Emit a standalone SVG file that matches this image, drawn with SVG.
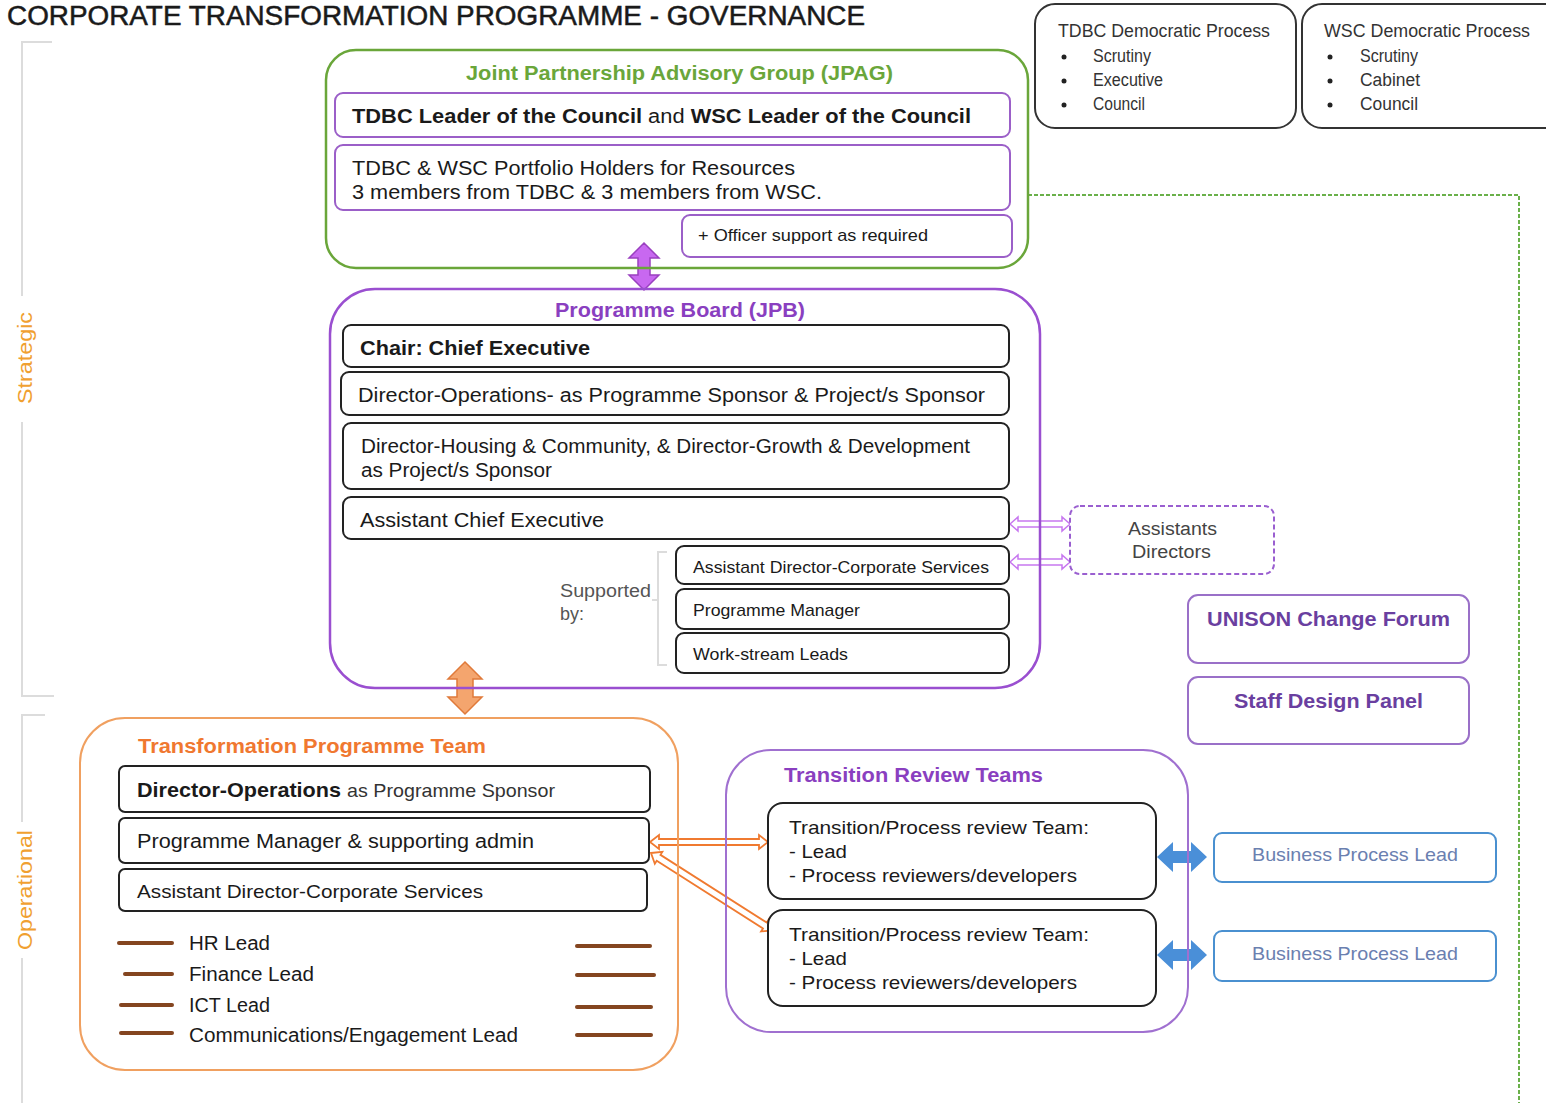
<svg xmlns="http://www.w3.org/2000/svg" width="1546" height="1103" viewBox="0 0 1546 1103">
  <style>
    text { font-family: "Liberation Sans", Arial, sans-serif; fill: #1a1a1a; }
    .title { font-size: 27px; stroke: #1a1a1a; stroke-width: 0.5; }
    .side { font-size: 21px; fill: #f0a030; }
    .grp { font-size: 20px; font-weight: bold; }
    .body { font-size: 20px; }
    .small { font-size: 17px; }
    .dem { font-size: 18px; fill: #333; }
    .box { fill: #fff; stroke: #222; stroke-width: 2; }
    .pbox { fill: #fff; stroke: #9b5fc8; stroke-width: 2; }
    .bracket { fill: none; stroke: #dcdcdc; stroke-width: 2; }
    .lead { stroke: #844520; stroke-width: 4; stroke-linecap: round; }
  </style>

  <!-- heading -->
  <text class="title" x="7" y="25" textLength="858" lengthAdjust="spacingAndGlyphs">CORPORATE TRANSFORMATION PROGRAMME - GOVERNANCE</text>

  <!-- side brackets -->
  <g id="strategic-label">
    <path class="bracket" d="M52,42 H22 V296 M22,422 V696 H54"/>
    <text class="side" transform="translate(32,358) rotate(-90)" text-anchor="middle" textLength="92" lengthAdjust="spacingAndGlyphs">Strategic</text>
  </g>
  <g id="operational-label">
    <path class="bracket" d="M45,715 H22 V822 M22,958 V1103"/>
    <text class="side" transform="translate(32,890) rotate(-90)" text-anchor="middle" textLength="120" lengthAdjust="spacingAndGlyphs">Operational</text>
  </g>

  <!-- democratic process boxes -->
  <g id="tdbc-democratic">
    <rect x="1035" y="4" width="261" height="124" rx="20" fill="#fff" stroke="#333" stroke-width="2"/>
    <text class="dem" x="1058" y="37" textLength="212" lengthAdjust="spacingAndGlyphs">TDBC Democratic Process</text>
    <circle cx="1064" cy="57" r="2.5" fill="#222"/>
    <circle cx="1064" cy="81" r="2.5" fill="#222"/>
    <circle cx="1064" cy="105" r="2.5" fill="#222"/>
    <text class="dem" x="1093" y="62" textLength="58" lengthAdjust="spacingAndGlyphs">Scrutiny</text>
    <text class="dem" x="1093" y="86" textLength="70" lengthAdjust="spacingAndGlyphs">Executive</text>
    <text class="dem" x="1093" y="110" textLength="52" lengthAdjust="spacingAndGlyphs">Council</text>
  </g>
  <g id="wsc-democratic">
    <rect x="1302" y="4" width="262" height="124" rx="20" fill="#fff" stroke="#333" stroke-width="2"/>
    <text class="dem" x="1324" y="37" textLength="206" lengthAdjust="spacingAndGlyphs">WSC Democratic Process</text>
    <circle cx="1330" cy="57" r="2.5" fill="#222"/>
    <circle cx="1330" cy="81" r="2.5" fill="#222"/>
    <circle cx="1330" cy="105" r="2.5" fill="#222"/>
    <text class="dem" x="1360" y="62" textLength="58" lengthAdjust="spacingAndGlyphs">Scrutiny</text>
    <text class="dem" x="1360" y="86" textLength="60" lengthAdjust="spacingAndGlyphs">Cabinet</text>
    <text class="dem" x="1360" y="110" textLength="58" lengthAdjust="spacingAndGlyphs">Council</text>
  </g>

  <!-- connectors -->
  <g id="connectors">
    <!-- dashed link from JPAG down the right margin -->
    <path d="M1028,195 H1519 V1103" fill="none" stroke="#6ab04a" stroke-width="2" stroke-dasharray="4 2"/>
    <!-- JPAG <-> Programme Board -->
    <path d="M644,243 L659,258 L650,258 L650,275 L659,275 L644,290 L629,275 L638,275 L638,258 L629,258 Z" fill="#c868f0" stroke="#9a40c0" stroke-width="1.5"/>
    <!-- Programme Board <-> Transformation Programme Team -->
    <path d="M465,662 L482,679 L473,679 L473,697 L482,697 L465,714 L448,697 L457,697 L457,679 L448,679 Z" fill="#f4a56e" stroke="#e07a3a" stroke-width="1.5"/>
    <!-- Programme Board <-> Assistants Directors -->
    <path d="M1010,524 L1018,517 L1018,521 L1062,521 L1062,517 L1070,524 L1062,531 L1062,527 L1018,527 L1018,531 Z" fill="#fff" stroke="#c878f0" stroke-width="1.5"/>
    <path d="M1010,562 L1018,555 L1018,559 L1062,559 L1062,555 L1070,562 L1062,569 L1062,565 L1018,565 L1018,569 Z" fill="#fff" stroke="#c878f0" stroke-width="1.5"/>
    <!-- Programme Manager <-> review teams -->
    <path d="M650,842 L659,835 L659,839 L759,839 L759,835 L768,842 L759,849 L759,845 L659,845 L659,849 Z" fill="#fff" stroke="#f07a30" stroke-width="1.8"/>
    <path transform="translate(651,853) rotate(32.5)" d="M0,0 L9,-7 L9,-3.5 L135,-3.5 L135,-7 L144,0 L135,7 L135,3.5 L9,3.5 L9,7 Z" fill="#fff" stroke="#f07a30" stroke-width="1.8"/>
    <!-- review teams <-> business process leads -->
    <path d="M1157,857 L1173,842 L1173,851 L1191,851 L1191,842 L1207,857 L1191,872 L1191,863 L1173,863 L1173,872 Z" fill="#4a8fd8"/>
    <path d="M1157,955 L1173,940 L1173,949 L1191,949 L1191,940 L1207,955 L1191,970 L1191,961 L1173,961 L1173,970 Z" fill="#4a8fd8"/>
  </g>

  <!-- Joint Partnership Advisory Group -->
  <g id="jpag">
    <rect x="326" y="50" width="702" height="218" rx="30" fill="none" stroke="#6aa63a" stroke-width="2.5"/>
    <text class="grp" x="466" y="80" style="fill:#6aa63a" textLength="427" lengthAdjust="spacingAndGlyphs">Joint Partnership Advisory Group (JPAG)</text>
    <rect class="pbox" x="335" y="93" width="675" height="44" rx="8"/>
    <text class="body" x="352" y="123" font-weight="bold" textLength="619" lengthAdjust="spacingAndGlyphs">TDBC Leader of the Council  <tspan font-weight="normal">and</tspan> WSC Leader of the Council</text>
    <rect class="pbox" x="335" y="145" width="675" height="65" rx="8"/>
    <text class="body" x="352" y="175" textLength="443" lengthAdjust="spacingAndGlyphs">TDBC &amp; WSC Portfolio Holders for Resources</text>
    <text class="body" x="352" y="199" textLength="470" lengthAdjust="spacingAndGlyphs">3 members from TDBC &amp; 3 members from WSC.</text>
    <rect class="pbox" x="682" y="215" width="330" height="42" rx="8"/>
    <text class="small" x="698" y="241" textLength="230" lengthAdjust="spacingAndGlyphs">+ Officer support  as required</text>
  </g>

  <!-- Programme Board -->
  <g id="programme-board">
    <rect x="330" y="289" width="710" height="399" rx="45" fill="none" stroke="#9a4fd0" stroke-width="2.5"/>
    <text class="grp" x="555" y="317" style="fill:#8a3fc0" textLength="250" lengthAdjust="spacingAndGlyphs">Programme Board (JPB)</text>
    <rect class="box" x="343" y="325" width="666" height="42" rx="8"/>
    <text x="360" y="355" font-size="21" font-weight="bold" textLength="230" lengthAdjust="spacingAndGlyphs">Chair: Chief Executive</text>
    <rect class="box" x="341" y="372" width="668" height="43" rx="8"/>
    <text class="body" x="358" y="402" textLength="627" lengthAdjust="spacingAndGlyphs">Director-Operations- as Programme Sponsor &amp; Project/s Sponsor</text>
    <rect class="box" x="343" y="423" width="666" height="66" rx="8"/>
    <text class="body" x="361" y="453" textLength="609" lengthAdjust="spacingAndGlyphs">Director-Housing &amp; Community, &amp; Director-Growth &amp; Development</text>
    <text class="body" x="361" y="477" textLength="191" lengthAdjust="spacingAndGlyphs">as Project/s Sponsor</text>
    <rect class="box" x="343" y="497" width="666" height="42" rx="8"/>
    <text class="body" x="360" y="527" textLength="244" lengthAdjust="spacingAndGlyphs">Assistant Chief Executive</text>
    <path class="bracket" d="M667,552 H658 V665 H667 M658,600 H652" stroke-width="1.5"/>
    <text x="560" y="597" font-size="18" style="fill:#555" textLength="91" lengthAdjust="spacingAndGlyphs">Supported</text>
    <text x="560" y="620" font-size="18" style="fill:#555">by:</text>
    <rect class="box" x="676" y="546" width="333" height="38" rx="8"/>
    <text class="small" x="693" y="573" textLength="296" lengthAdjust="spacingAndGlyphs">Assistant Director-Corporate Services</text>
    <rect class="box" x="676" y="589" width="333" height="40" rx="8"/>
    <text class="small" x="693" y="616" textLength="167" lengthAdjust="spacingAndGlyphs">Programme Manager</text>
    <rect class="box" x="676" y="633" width="333" height="40" rx="8"/>
    <text class="small" x="693" y="660" textLength="155" lengthAdjust="spacingAndGlyphs">Work-stream Leads</text>
  </g>

  <g id="assistant-directors">
    <rect x="1070" y="506" width="204" height="68" rx="10" fill="#fff" stroke="#9a5fd0" stroke-width="2" stroke-dasharray="5 3"/>
    <text x="1128" y="535" font-size="18" style="fill:#444" textLength="89" lengthAdjust="spacingAndGlyphs">Assistants</text>
    <text x="1132" y="558" font-size="18" style="fill:#444" textLength="79" lengthAdjust="spacingAndGlyphs">Directors</text>
  </g>

  <g id="unison-change-forum">
    <rect x="1188" y="595" width="281" height="68" rx="10" fill="#fff" stroke="#9a70c8" stroke-width="2"/>
    <text class="grp" x="1207" y="626" style="fill:#6a3fa0" textLength="243" lengthAdjust="spacingAndGlyphs">UNISON Change Forum</text>
  </g>
  <g id="staff-design-panel">
    <rect x="1188" y="677" width="281" height="67" rx="10" fill="#fff" stroke="#9a70c8" stroke-width="2"/>
    <text class="grp" x="1234" y="708" style="fill:#6a3fa0" textLength="189" lengthAdjust="spacingAndGlyphs">Staff Design Panel</text>
  </g>

  <!-- Transformation Programme Team -->
  <g id="transformation-team">
    <rect x="80" y="718" width="598" height="352" rx="45" fill="none" stroke="#f0a060" stroke-width="2"/>
    <text class="grp" x="138" y="753" style="fill:#f07830" textLength="348" lengthAdjust="spacingAndGlyphs">Transformation Programme Team</text>
    <rect class="box" x="119" y="766" width="531" height="46" rx="6"/>
    <text x="137" y="797" font-size="21" font-weight="bold" textLength="204" lengthAdjust="spacingAndGlyphs">Director-Operations</text>
    <text x="347" y="797" font-size="19" style="fill:#333" textLength="208" lengthAdjust="spacingAndGlyphs">as Programme Sponsor</text>
    <rect class="box" x="119" y="818" width="530" height="45" rx="6"/>
    <text class="body" x="137" y="848" textLength="397" lengthAdjust="spacingAndGlyphs">Programme Manager &amp; supporting admin</text>
    <rect class="box" x="119" y="869" width="528" height="42" rx="6"/>
    <text x="137" y="898" font-size="19" textLength="346" lengthAdjust="spacingAndGlyphs">Assistant Director-Corporate Services</text>
    <line class="lead" x1="119" y1="943" x2="172" y2="943"/>
    <line class="lead" x1="125" y1="974" x2="172" y2="974"/>
    <line class="lead" x1="121" y1="1005" x2="172" y2="1005"/>
    <line class="lead" x1="121" y1="1033" x2="172" y2="1033"/>
    <line class="lead" x1="577" y1="946" x2="650" y2="946"/>
    <line class="lead" x1="577" y1="975" x2="654" y2="975"/>
    <line class="lead" x1="577" y1="1007" x2="651" y2="1007"/>
    <line class="lead" x1="577" y1="1035" x2="651" y2="1035"/>
    <text class="body" x="189" y="950" textLength="81" lengthAdjust="spacingAndGlyphs">HR Lead</text>
    <text class="body" x="189" y="981" textLength="125" lengthAdjust="spacingAndGlyphs">Finance Lead</text>
    <text class="body" x="189" y="1012" textLength="81" lengthAdjust="spacingAndGlyphs">ICT Lead</text>
    <text class="body" x="189" y="1042" textLength="329" lengthAdjust="spacingAndGlyphs">Communications/Engagement Lead</text>
  </g>

  <!-- Transition Review Teams -->
  <g id="transition-review-teams">
    <rect x="726" y="750" width="462" height="282" rx="45" fill="none" stroke="#a070d0" stroke-width="2"/>
    <text class="grp" x="784" y="782" style="fill:#8a3fc0" textLength="259" lengthAdjust="spacingAndGlyphs">Transition Review Teams</text>
    <rect class="box" x="768" y="803" width="388" height="96" rx="15"/>
    <text x="789" y="834" font-size="19" textLength="300" lengthAdjust="spacingAndGlyphs">Transition/Process review Team:</text>
    <text x="789" y="858" font-size="19" textLength="58" lengthAdjust="spacingAndGlyphs">- Lead</text>
    <text x="789" y="882" font-size="19" textLength="288" lengthAdjust="spacingAndGlyphs">- Process reviewers/developers</text>
    <rect class="box" x="768" y="910" width="388" height="96" rx="15"/>
    <text x="789" y="941" font-size="19" textLength="300" lengthAdjust="spacingAndGlyphs">Transition/Process review Team:</text>
    <text x="789" y="965" font-size="19" textLength="58" lengthAdjust="spacingAndGlyphs">- Lead</text>
    <text x="789" y="989" font-size="19" textLength="288" lengthAdjust="spacingAndGlyphs">- Process reviewers/developers</text>
  </g>

  <g id="business-process-lead-1">
    <rect x="1214" y="833" width="282" height="49" rx="8" fill="#fff" stroke="#4a90d0" stroke-width="2"/>
    <text x="1252" y="861" font-size="19" style="fill:#6a80b0" textLength="206" lengthAdjust="spacingAndGlyphs">Business Process Lead</text>
  </g>
  <g id="business-process-lead-2">
    <rect x="1214" y="931" width="282" height="50" rx="8" fill="#fff" stroke="#4a90d0" stroke-width="2"/>
    <text x="1252" y="960" font-size="19" style="fill:#6a80b0" textLength="206" lengthAdjust="spacingAndGlyphs">Business Process Lead</text>
  </g>
</svg>
